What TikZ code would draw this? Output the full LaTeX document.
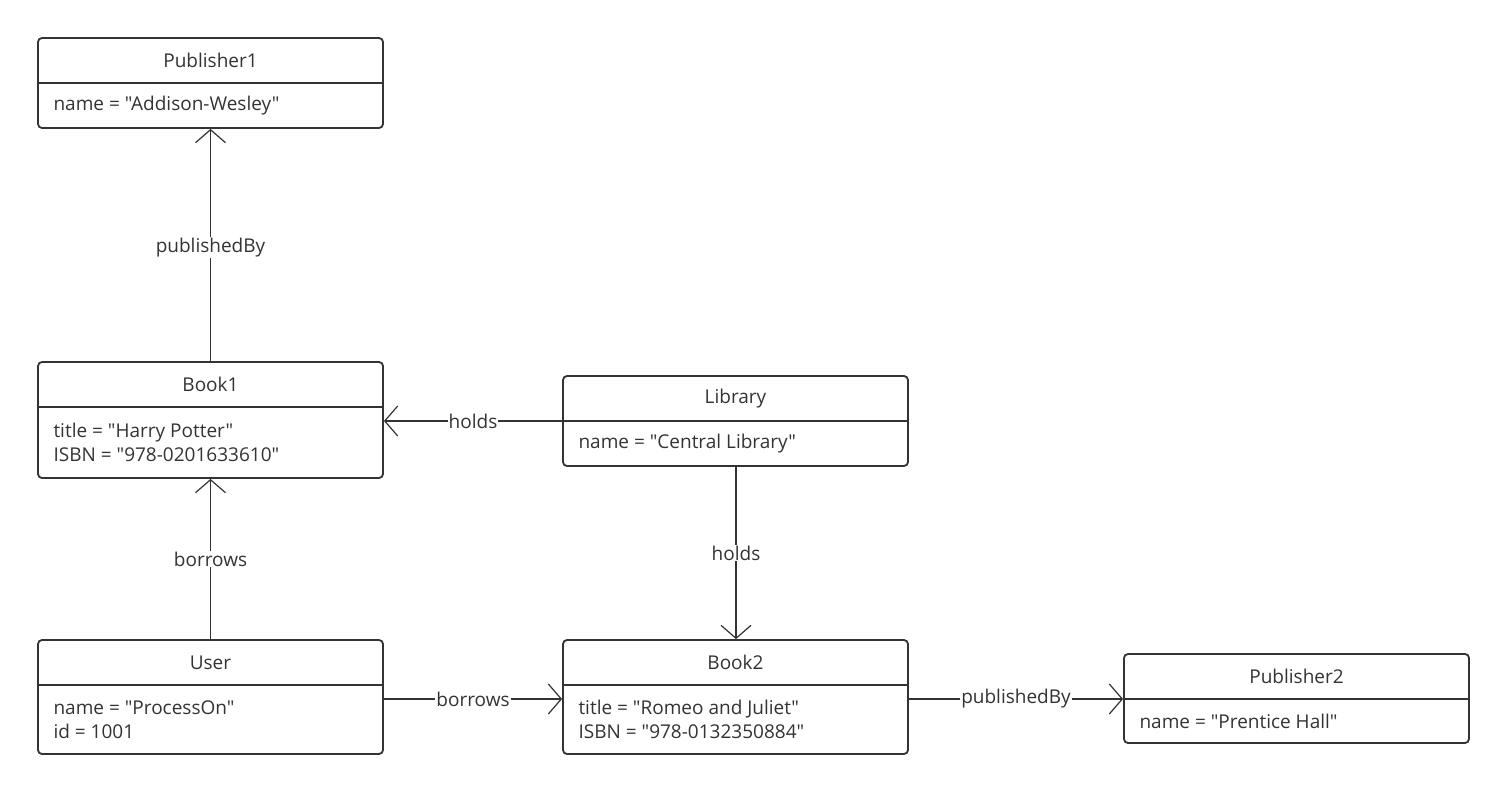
\documentclass[tikz,border=0pt]{standalone}
\usepackage{fontspec}
\setmainfont[Ligatures=TeXOff]{Open Sans}
\usetikzlibrary{arrows.meta,calc}
\definecolor{ink}{HTML}{333333}
\tikzset{
  x=1pt,y=-1pt,
  obj/.style={draw=ink,line width=1.8pt,rounded corners=4pt,inner sep=0pt},
  ttl/.style={text=ink,font=\fontsize{19}{22}\selectfont},
  body/.style={text=ink,font=\fontsize{19}{24}\selectfont,align=left,anchor=west},
  conn/.style={draw=ink,line width=1.2pt,-{Straight Barb[length=13pt,width=30pt,line width=1.2pt]}},
  lbl/.style={fill=white,text=ink,font=\fontsize{19}{22}\selectfont,inner sep=1pt}
}
\newcommand\objbox[8]{%
  \node[obj,minimum width={#4-#2},minimum height={#5-#3}] (#1) at ({(#2+#4)/2},{(#3+#5)/2}) {};
  \draw[ink,line width=1.8pt] (#2,#6) -- (#4,#6);
  \node[ttl] (#1t) at ({(#2+#4)/2},{(#3+#6)/2}) {#7};
  \node[body] (#1b) at ({#2+12},{(#6+#5)/2}) {#8};
}
\begin{document}
\begin{tikzpicture}
\useasboundingbox (0,0) rectangle (1506,792);
\objbox{pa}{38}{38}{383}{128}{83}{Publisher1}{name = "Addison-Wesley"}
\objbox{ba}{38}{362}{383}{478}{407}{Book1}{title = "Harry Potter"\\ISBN = "978-0201633610"}
\objbox{lib}{563}{376}{908}{466}{421}{Library}{name = "Central Library"}
\objbox{us}{38}{640}{383}{754}{685}{User}{name = "ProcessOn"\\id = 1001}
\objbox{bb}{563}{640}{908}{754}{685}{Book2}{title = "Romeo and Juliet"\\ISBN = "978-0132350884"}
\objbox{pb}{1124}{654}{1469}{743}{699}{Publisher2}{name = "Prentice Hall"}

\draw[conn] (ba.north) -- node[lbl,pos=0.49] {publishedBy} (pa.south);
\draw[conn] (lib.west|-0,421) -- node[lbl] {holds} (ba.east|-0,421);
\draw[conn] (us.north) -- node[lbl,pos=0.5] {borrows} (ba.south);
\draw[conn] (lib.south-|736,0) -- node[lbl,pos=0.5] {holds} (bb.north-|736,0);
\draw[conn] (us.east|-0,699) -- node[lbl] {borrows} (bb.west|-0,699);
\draw[conn] (bb.east|-0,699) -- node[lbl] {publishedBy} (pb.west|-0,699);
\end{tikzpicture}
\end{document}
